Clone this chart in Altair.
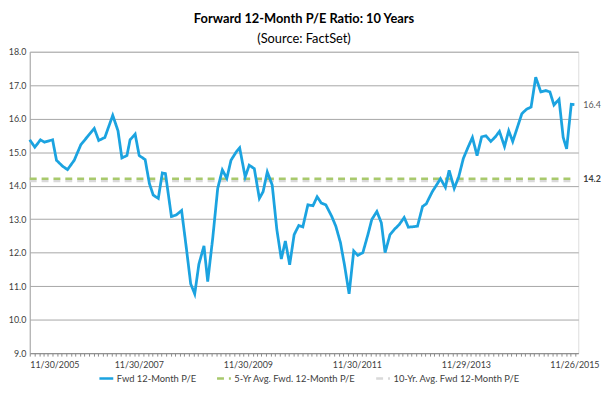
import altair as alt
import pandas as pd

# ---- data ----
dates = [
    "2005-11-30", "2006-01-03", "2006-02-10", "2006-03-08", "2006-05-02", "2006-05-28", "2006-07-08", "2006-08-10", "2006-09-24", "2006-11-08",
    "2006-12-21", "2007-02-05", "2007-03-07", "2007-04-17", "2007-06-09", "2007-07-14", "2007-08-09", "2007-09-12", "2007-10-03", "2007-11-06",
    "2007-12-03", "2008-01-12", "2008-02-09", "2008-03-06", "2008-04-09", "2008-05-06", "2008-05-27", "2008-07-06", "2008-08-09", "2008-09-12",
    "2008-10-15", "2008-11-12", "2008-12-09", "2009-01-06", "2009-02-09", "2009-03-06", "2009-04-09", "2009-05-12", "2009-06-12", "2009-07-12",
    "2009-08-09", "2009-09-12", "2009-10-06", "2009-11-12", "2009-12-09", "2010-01-12", "2010-02-15", "2010-03-12", "2010-04-09", "2010-05-12",
    "2010-06-12", "2010-07-12", "2010-08-08", "2010-09-06", "2010-10-06", "2010-11-06", "2010-12-03", "2011-01-06", "2011-02-09", "2011-03-09",
    "2011-04-06", "2011-05-06", "2011-06-15", "2011-07-12", "2011-08-12", "2011-09-09", "2011-10-09", "2011-11-09", "2011-12-06", "2012-01-09",
    "2012-02-12", "2012-03-09", "2012-04-12", "2012-05-12", "2012-06-06", "2012-07-09", "2012-08-06", "2012-09-09", "2012-10-12", "2012-11-09",
    "2013-01-09", "2013-02-12", "2013-03-09", "2013-04-18", "2013-05-21", "2013-06-12", "2013-07-15", "2013-08-09", "2013-09-12", "2013-10-12",
    "2013-11-12", "2013-12-12", "2014-01-12", "2014-02-12", "2014-03-15", "2014-04-12", "2014-05-15", "2014-06-15", "2014-07-12", "2014-08-15",
    "2014-09-12", "2014-10-09", "2014-11-09", "2014-12-09", "2015-01-09", "2015-02-09", "2015-03-12", "2015-04-15", "2015-05-18", "2015-06-15",
    "2015-07-12", "2015-08-15", "2015-09-12", "2015-10-05", "2015-11-05", "2015-11-26",
]
fwd_pe = [
    15.37, 15.15, 15.37, 15.30, 15.37, 14.76, 14.58, 14.48, 14.76, 15.23,
    15.46, 15.71, 15.35, 15.44, 16.10, 15.64, 14.83, 14.90, 15.37, 15.54,
    14.90, 14.78, 14.07, 13.72, 13.62, 14.38, 14.36, 13.08, 13.13, 13.26,
    12.10, 11.07, 10.77, 11.66, 12.20, 11.14, 12.45, 13.92, 14.47, 14.22,
    14.76, 15.00, 15.13, 14.26, 14.61, 14.51, 13.62, 13.82, 14.41, 14.02,
    12.69, 11.81, 12.35, 11.64, 12.54, 12.81, 12.77, 13.43, 13.40, 13.67,
    13.48, 13.43, 13.08, 12.79, 12.30, 11.61, 10.77, 12.05, 11.92, 12.00,
    12.54, 12.99, 13.23, 12.89, 12.00, 12.54, 12.69, 12.84, 13.05, 12.76,
    12.79, 13.38, 13.46, 13.82, 14.05, 14.21, 13.95, 14.46, 13.92, 14.26,
    14.81, 15.13, 15.44, 14.90, 15.46, 15.49, 15.32, 15.46, 15.62, 15.17,
    15.64, 15.32, 15.74, 16.15, 16.28, 16.35, 17.24, 16.80, 16.84, 16.80,
    16.41, 16.58, 15.44, 15.10, 16.43, 16.42,
]
avg_5yr = 14.21
avg_10yr = 14.14

series_names = ["Fwd 12-Month P/E", "5-Yr Avg. Fwd. 12-Month P/E", "10-Yr. Avg. Fwd 12-Month P/E"]
series_colors = ["#1BA3E0", "#A8C96C", "#D9D9D9"]
series_dashes = [[1, 0], [7, 5], [7, 5]]
x_label_dates = [(2005, 11, 30), (2007, 11, 30), (2009, 11, 30), (2011, 11, 30), (2013, 11, 29), (2015, 11, 26)]
y_ticks = [9, 10, 11, 12, 13, 14, 15, 16, 17, 18]

FONT = "Lato"

# ---- tables ----
pe_df = pd.DataFrame({"date": pd.to_datetime(dates), "value": fwd_pe, "series": series_names[0]})
first, last = pd.to_datetime(dates[0]), pd.to_datetime(dates[-1])
avg5_df = pd.DataFrame({"date": [first, last], "value": [avg_5yr, avg_5yr], "series": series_names[1]})
avg10_df = pd.DataFrame({"date": [first, last], "value": [avg_10yr, avg_10yr], "series": series_names[2]})

x_scale = alt.Scale(domain=[alt.DateTime(year=2005, month=11, date=30), alt.DateTime(year=2015, month=12, date=22)])

y_enc = alt.Y(
    "value:Q",
    scale=alt.Scale(domain=[9, 18], nice=False, zero=False),
    axis=alt.Axis(values=y_ticks, format=".1f", grid=True, gridColor="#A6A6A6", gridWidth=1,
                  ticks=False, domain=True, domainColor="#A6A6A6", labelPadding=4,
                  labelFont=FONT, labelFontSize=9, labelColor="#404040"),
    title=None,
)

legend = alt.Legend(
    title=None, orient="none", legendX=69, legendY=322, direction="horizontal",
    symbolType="stroke", symbolSize=196, symbolStrokeWidth=2.5,
    labelFont=FONT, labelFontSize=9.5, labelColor="#404040", columnPadding=15, labelOffset=2,
)
color_enc = alt.Color("series:N", scale=alt.Scale(domain=series_names, range=series_colors), legend=legend)
dash_enc = alt.StrokeDash("series:N", scale=alt.Scale(domain=series_names, range=series_dashes), legend=legend)

label_axis = alt.Axis(
    orient="bottom", values=[alt.DateTime(year=y, month=m, date=d) for y, m, d in x_label_dates],
    format="%m/%d/%Y", ticks=False, domain=False, grid=False, labelPadding=8,
    labelFont=FONT, labelFontSize=9, labelColor="#404040", labelOverlap=False,
)
tick_axis = alt.Axis(
    orient="bottom", labels=False, tickCount=alt.TimeIntervalStep(interval="month", step=1),
    tickSize=3, tickColor="#8C8C8C", domainColor="#8C8C8C", grid=False,
)

gray = alt.Chart(avg10_df).mark_line(strokeWidth=2.5).encode(
    x=alt.X("date:T", scale=x_scale, axis=label_axis, title=None),
    y=y_enc, color=color_enc, strokeDash=dash_enc,
)
green = alt.Chart(avg5_df).mark_line(strokeWidth=2.5).encode(
    x=alt.X("date:T", scale=x_scale, axis=None, title=None),
    y=y_enc, color=color_enc, strokeDash=dash_enc,
)
blue = alt.Chart(pe_df).mark_line(strokeWidth=2.8).encode(
    x=alt.X("date:T", scale=x_scale, axis=tick_axis, title=None),
    y=y_enc, color=color_enc, strokeDash=dash_enc,
)
last_label = alt.Chart(pe_df.tail(1)).mark_text(
    align="left", baseline="middle", dx=9, font=FONT, fontSize=9, color="#595959"
).encode(
    x=alt.X("date:T", scale=x_scale, axis=None, title=None), y=y_enc,
    text=alt.Text("value:Q", format=".1f"),
)
avg_label = alt.Chart(avg5_df.tail(1)).mark_text(
    align="left", baseline="middle", dx=9, font=FONT, fontSize=9, fontWeight="bold", color="#404040"
).encode(
    x=alt.X("date:T", scale=x_scale, axis=None, title=None), y=y_enc,
    text=alt.Text("value:Q", format=".1f"),
)

chart = alt.layer(gray, green, blue, last_label, avg_label).resolve_axis(x="independent").properties(
    width=555, height=305,
    autosize=alt.AutoSizeParams(type="none"),
    padding={"left": 22, "top": 42, "right": 24, "bottom": 31},
    title=alt.TitleParams(
        text="Forward 12-Month P/E Ratio: 10 Years", subtitle="(Source: FactSet)",
        font=FONT, fontSize=13, fontWeight="bold", color="#000000",
        subtitleFont=FONT, subtitleFontSize=13, subtitleColor="#000000",
        anchor="middle", frame="group", offset=2, subtitlePadding=7,
    ),
).configure_view(stroke=None).configure(background="white")

chart.save("out.html", embed_options={"renderer": "svg", "actions": False})
